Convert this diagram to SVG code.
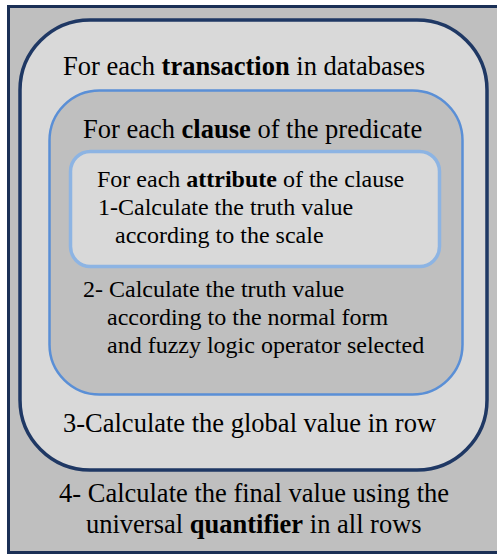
<svg xmlns="http://www.w3.org/2000/svg" width="497" height="557" viewBox="0 0 497 557">
  <style>
    text { fill: #000; }
    .big { font-size: 26.5px; }
    .small { font-size: 24px; }
    .b { font-weight: bold; }
    .frame { fill: #bfbfbf; stroke: #1b3056; stroke-width: 3; }
    .loop-tx { fill: #d9d9d9; stroke: #1f3864; stroke-width: 3.5; }
    .loop-cl { fill: #bfbfbf; stroke: #5a8fd6; stroke-width: 2.5; }
    .loop-at { fill: #d9d9d9; stroke: #8db4e3; stroke-width: 3.5; }
  </style>

  <g font-family="Liberation Serif, DejaVu Serif, serif">
  <!-- outer frame -->
  <g id="frame">
    <rect class="frame" x="8.5" y="6.5" width="500" height="546"/>
    <text class="big" x="59" y="502">4- Calculate the final value using the</text>
    <text class="big" x="86" y="533">universal <tspan class="b">quantifier</tspan> in all rows</text>
  </g>

  <!-- transaction loop -->
  <g id="transaction-loop">
    <rect class="loop-tx" x="20" y="20" width="467" height="450" rx="70" ry="70"/>
    <text class="big" x="63" y="75">For each <tspan class="b">transaction</tspan> in databases</text>
    <text class="big" x="63" y="432">3-Calculate the global value in row</text>
  </g>

  <!-- clause loop -->
  <g id="clause-loop">
    <rect class="loop-cl" x="49.5" y="90.5" width="413" height="304" rx="50" ry="50"/>
    <text class="big" x="83" y="138">For each <tspan class="b">clause</tspan> of the predicate</text>
    <text class="small" x="83" y="297">2- Calculate the truth value</text>
    <text class="small" x="107" y="325">according to the normal form</text>
    <text class="small" x="107" y="353">and fuzzy logic operator selected</text>
  </g>

  <!-- attribute loop -->
  <g id="attribute-loop">
    <rect class="loop-at" x="70.5" y="151.5" width="369" height="115" rx="20" ry="20"/>
    <text class="small" x="97" y="187">For each <tspan class="b">attribute</tspan> of the clause</text>
    <text class="small" x="98" y="215">1-Calculate the truth value</text>
    <text class="small" x="115" y="243">according to the scale</text>
  </g>
  </g>

  <g id="connectors"/>
</svg>
